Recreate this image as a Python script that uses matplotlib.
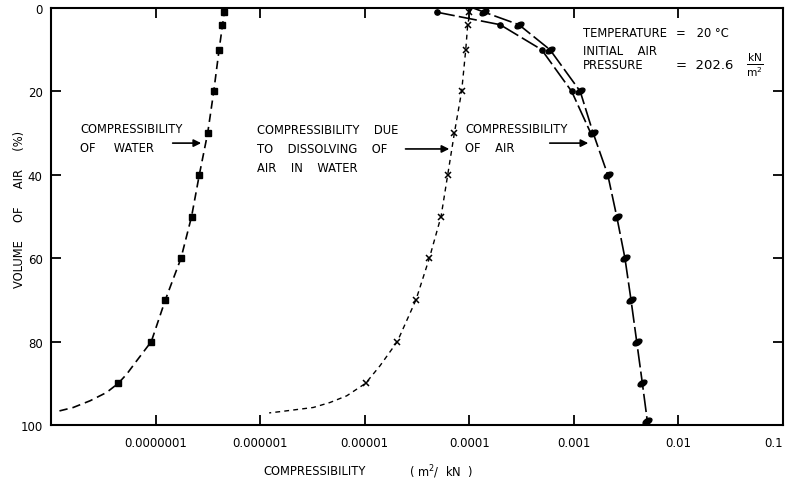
import matplotlib

matplotlib.use("Agg")

import matplotlib.pyplot as plt  # noqa: E402
from matplotlib.markers import MarkerStyle  # noqa: E402
from matplotlib.transforms import Affine2D  # noqa: E402

# volume of air (%) at the plotted points
vol_pts = [1, 4, 10, 20, 30, 40, 50, 60, 70, 80, 90]

# compressibility (m2/kN)
water_pts = [4.5e-7, 4.3e-7, 4.05e-7, 3.6e-7, 3.15e-7, 2.62e-7, 2.21e-7,
             1.75e-7, 1.24e-7, 9.1e-8, 4.4e-8]
dissolved_pts = [9.9e-5, 9.66e-5, 9.25e-5, 8.45e-5, 7.2e-5, 6.22e-5, 5.37e-5,
                 4.15e-5, 3.09e-5, 2.05e-5, 1.02e-5]

air_vol = [1, 4, 10, 20, 30, 40, 50, 60, 70, 80, 90, 99]
air_pts = [1.39e-4, 2.98e-4, 5.91e-4, 1.15e-3, 1.53e-3, 2.11e-3, 2.57e-3,
           3.08e-3, 3.52e-3, 3.99e-3, 4.52e-3, 4.98e-3]
air2_vol = [1, 4, 10, 20, 30]
air2_pts = [4.88e-5, 1.97e-4, 4.92e-4, 9.53e-4, 1.45e-3]

# hand-drawn fitted curves
water_curve_vol = [0, 10, 20, 30, 40, 50, 60, 70, 80, 84.6, 87.8, 90,
                   92.2, 94.2, 95.8, 96.7]
water_curve = [4.6e-7, 4.05e-7, 3.6e-7, 3.15e-7, 2.62e-7, 2.21e-7, 1.75e-7,
               1.24e-7, 9.1e-8, 6.6e-8, 5.3e-8, 4.4e-8, 3.4e-8, 2.36e-8,
               1.63e-8, 1.17e-8]

dissolved_curve_vol = [0, 4, 10, 20, 30, 40, 50, 60, 70, 80, 85.8, 90, 93,
                       94.6, 95.8, 96.8, 97.1]
dissolved_curve = [1.04e-4, 9.66e-5, 9.25e-5, 8.45e-5, 7.2e-5, 6.22e-5,
                   5.37e-5, 4.15e-5, 3.09e-5, 2.05e-5, 1.40e-5, 1.02e-5,
                   6.73e-6, 4.66e-6, 3.22e-6, 1.55e-6, 1.22e-6]

air_curve_vol = [0, 1, 4, 10, 20, 30, 40, 50, 60, 70, 80, 90, 100]
air_curve = [1.09e-4, 1.39e-4, 2.98e-4, 5.91e-4, 1.15e-3, 1.53e-3, 2.11e-3,
             2.57e-3, 3.08e-3, 3.52e-3, 3.99e-3, 4.52e-3, 5.1e-3]
air2_curve_vol = [1, 4, 10, 20, 30]
air2_curve = [4.88e-5, 1.97e-4, 4.92e-4, 9.53e-4, 1.45e-3]

x_ticks = [1e-7, 1e-6, 1e-5, 1e-4, 1e-3, 1e-2, 1e-1]
x_ticklabels = ["0.0000001", "0.000001", "0.00001", "0.0001", "0.001", "0.01", "0.1"]
y_ticks = [0, 20, 40, 60, 80, 100]

plt.rcParams["font.family"] = ["DejaVu Sans"]

W, H = 787, 485
fig = plt.figure(figsize=(W / 100, H / 100), dpi=100)
ax = fig.add_axes([51 / W, 1 - 426 / H, 732 / W, 417 / H])

ax.set_xscale("log")
ax.set_xlim(1e-8, 1e-1)
ax.set_ylim(100, 0)

# curves
ax.plot(water_curve, water_curve_vol, color="black", lw=1.2, dashes=(5, 3))
ax.plot(dissolved_curve, dissolved_curve_vol, color="black", lw=1.0, dashes=(3.5, 3))
ax.plot(air_curve, air_curve_vol, color="black", lw=1.2, dashes=(11, 2.5))
ax.plot(air2_curve, air2_curve_vol, color="black", lw=1.2, dashes=(11, 2.5))

# points; the air markers are slanted blobs in the original
slant = MarkerStyle("o", transform=Affine2D().scale(1.0, 0.55).rotate_deg(30))
ax.plot(water_pts, vol_pts, "s", color="black", ms=4.5)
ax.plot(dissolved_pts, vol_pts, "x", color="black", ms=4, mew=1.1)
ax.plot(air_pts, air_vol, ls="none", marker=slant, color="black", ms=7)
ax.plot(air2_pts, air2_vol, "o", color="black", ms=3.8)

ax.set_xticks(x_ticks)
ax.set_xticklabels(x_ticklabels)
ax.get_xticklabels()[-1].set_horizontalalignment("right")
ax.set_yticks(y_ticks)
ax.minorticks_off()
ax.tick_params(direction="in", length=7, width=1.3, top=True, right=True,
               labelsize=8.5, colors="black")
ax.tick_params(axis="x", pad=8)
ax.tick_params(axis="y", pad=6)
for s in ax.spines.values():
    s.set_linewidth(1.5)

fs = 8.3
arrow = dict(arrowstyle="-|>", color="black", lw=1.2, mutation_scale=11)

ax.text(1.89e-8, 31.2, "COMPRESSIBILITY\nOF     WATER", fontsize=fs,
        va="center", ha="left", linespacing=1.6)
ax.annotate("", xy=(2.9e-7, 32.4), xytext=(1.37e-7, 32.4), arrowprops=arrow)

ax.text(9.33e-7, 33.8, "COMPRESSIBILITY    DUE\nTO    DISSOLVING    OF\nAIR    IN    WATER",
        fontsize=fs, va="center", ha="left", linespacing=1.6)
ax.annotate("", xy=(6.84e-5, 33.8), xytext=(2.31e-5, 33.8), arrowprops=arrow)

ax.text(9.1e-5, 31.2, "COMPRESSIBILITY\nOF    AIR", fontsize=fs,
        va="center", ha="left", linespacing=1.6)
ax.annotate("", xy=(1.46e-3, 32.4), xytext=(5.53e-4, 32.4), arrowprops=arrow)

ax.text(1.22e-3, 5.8, "TEMPERATURE", fontsize=fs, va="center", ha="left")
ax.text(9.48e-3, 5.8, "=   20 °C", fontsize=fs, va="center", ha="left")
ax.text(1.22e-3, 10.1, "INITIAL    AIR", fontsize=fs, va="center", ha="left")
ax.text(1.22e-3, 13.6, "PRESSURE", fontsize=fs, va="center", ha="left")
ax.text(9.48e-3, 13.6, "=  202.6", fontsize=9.5, va="center", ha="left")
ax.text(0.0535, 13.4, r"$\frac{\mathrm{kN}}{\mathrm{m}^2}$", fontsize=11,
        va="center", ha="center")

fig.text(20 / W, 1 - 209 / H, "VOLUME     OF     AIR     (%)", rotation=90,
         fontsize=fs, va="center", ha="center")
fig.text(263 / W, 1 - 472 / H, "COMPRESSIBILITY", fontsize=fs,
         va="center", ha="left")
fig.text(409 / W, 1 - 472 / H, "( m$^2$/  kN  )", fontsize=fs,
         va="center", ha="left")

fig.savefig("out.png", dpi=100)
